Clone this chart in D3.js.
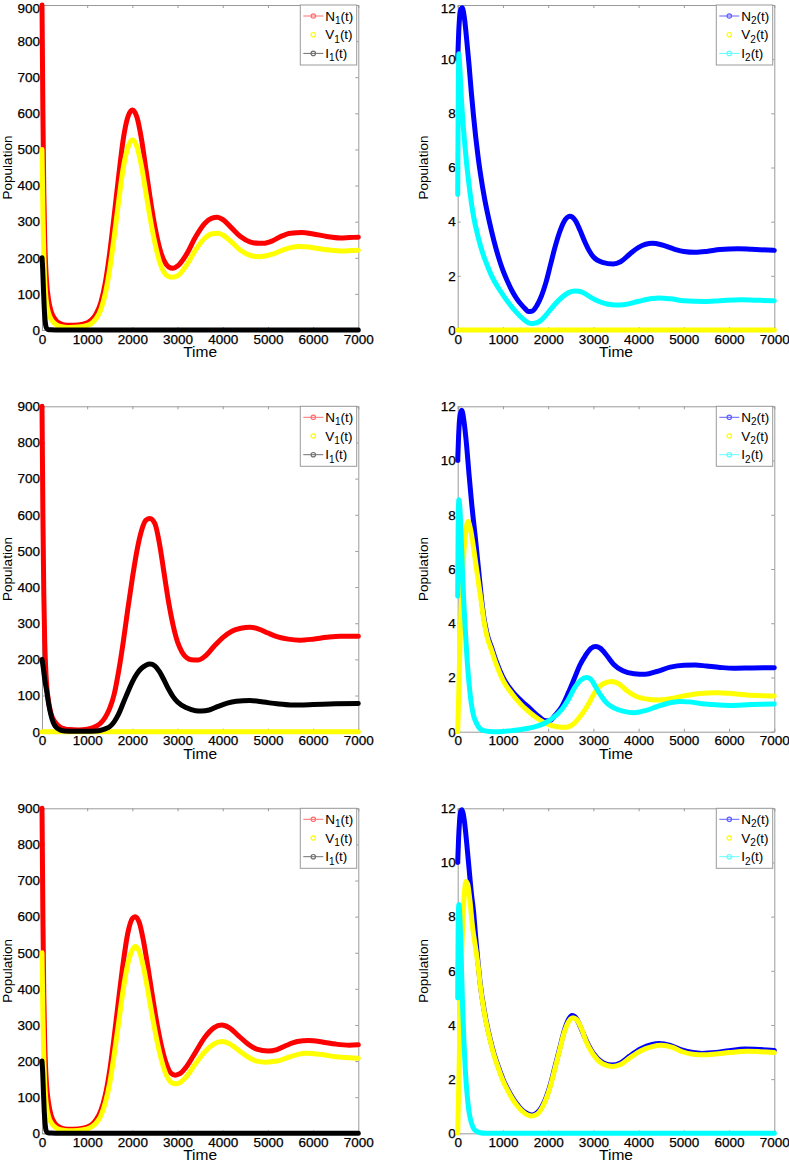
<!DOCTYPE html>
<html><head><meta charset="utf-8">
<script src="https://cdn.jsdelivr.net/npm/d3@7"></script>
<style>
html,body{margin:0;padding:0;background:#fff;}
svg{display:block;}
text{font-family:"Liberation Sans",Arial,Helvetica,sans-serif;}
</style></head>
<body>
<svg id="fig" width="789" height="1162"></svg>
<script>
// ---------- data (time, population) ----------
const xTicks = [0,1000,2000,3000,4000,5000,6000,7000];
const yTicks1 = [0,100,200,300,400,500,600,700,800,900];
const yTicks2 = [0,2,4,6,8,10,12];

// Panel A (top-left)
const a_N1 = [[0,900],[20,600],[40,380],[60,250],[80,180],[100,135],[150,80],[200,52],[300,28],[400,18],[500,14],[600,13],[800,14],[1000,20],[1100,28],[1200,45],[1300,75],[1400,130],[1500,215],[1600,320],[1700,430],[1800,530],[1900,590],[2000,609],[2100,590],[2200,530],[2300,445],[2400,360],[2500,285],[2600,228],[2700,192],[2800,175],[2900,171],[3000,177],[3200,210],[3400,258],[3600,295],[3750,309],[3880,312],[4000,306],[4200,282],[4400,258],[4600,244],[4800,240],[4900,240],[5100,247],[5300,260],[5500,268],[5750,270],[6000,266],[6300,259],[6600,255],[6800,256],[7000,257]];
const a_V1 = [[0,500],[20,330],[40,210],[60,140],[80,100],[100,75],[150,45],[200,30],[300,16],[400,10],[500,8],[600,7],[800,8],[1000,13],[1100,19],[1200,32],[1300,56],[1400,100],[1500,170],[1600,260],[1700,360],[1800,450],[1900,505],[2000,526],[2100,508],[2200,455],[2300,380],[2400,305],[2500,240],[2600,190],[2700,160],[2800,148],[2870,146],[3000,150],[3200,180],[3400,222],[3600,254],[3750,266],[3900,268],[4000,263],[4200,243],[4400,220],[4600,207],[4800,203],[4900,204],[5100,210],[5300,220],[5500,228],[5700,231],[6000,228],[6300,222],[6600,219],[7000,221]];
const a_I1 = [[0,200],[15,170],[30,120],[50,60],[70,25],[90,8],[120,2],[200,0.5],[400,0],[1000,0],[3000,0],[5000,0],[7000,0]];

// Panel B (top-right)
const b_N2 = [[0,10],[20,10.9],[40,11.5],[70,11.85],[100,11.9],[150,11.5],[200,10.7],[250,9.8],[300,8.8],[350,7.9],[400,7.1],[450,6.4],[500,5.8],[600,4.8],[700,4.0],[800,3.3],[900,2.7],[1000,2.2],[1100,1.8],[1200,1.45],[1300,1.17],[1400,0.95],[1500,0.77],[1560,0.68],[1650,0.7],[1750,0.9],[1850,1.25],[1950,1.75],[2050,2.4],[2150,3.05],[2250,3.6],[2350,4.0],[2480,4.2],[2600,4.05],[2700,3.7],[2800,3.3],[2900,2.95],[3000,2.7],[3200,2.5],[3440,2.44],[3600,2.52],[3800,2.8],[4000,3.05],[4300,3.2],[4500,3.15],[4800,2.98],[5000,2.9],[5250,2.87],[5500,2.9],[5800,2.97],[6200,3.0],[6500,2.98],[7000,2.94]];
const b_V2 = [[0,0],[1000,0],[3000,0],[5000,0],[7000,0]];
const b_I2 = [[0,5],[10,8],[25,10.2],[50,9.6],[80,8.6],[120,7.6],[160,6.8],[200,6.1],[270,5.1],[350,4.2],[450,3.45],[550,2.85],[650,2.4],[750,2.0],[900,1.55],[1000,1.3],[1150,0.95],[1300,0.65],[1450,0.4],[1550,0.28],[1650,0.24],[1750,0.27],[1850,0.37],[1950,0.55],[2050,0.75],[2150,0.95],[2300,1.2],[2450,1.38],[2600,1.44],[2750,1.4],[2900,1.25],[3100,1.07],[3300,0.96],[3500,0.92],[3700,0.94],[4000,1.06],[4300,1.16],[4450,1.18],[4700,1.15],[5000,1.08],[5450,1.05],[5800,1.08],[6250,1.12],[6600,1.1],[7000,1.08]];

// Panel C (middle-left)
const c_N1 = [[0,900],[20,600],[40,380],[60,250],[80,180],[100,135],[150,80],[200,50],[300,25],[400,13],[500,8],[600,6],[800,5],[1000,7],[1100,10],[1200,15],[1300,24],[1400,40],[1500,65],[1600,105],[1700,170],[1800,250],[1900,340],[2000,425],[2100,500],[2200,555],[2300,585],[2390,590],[2500,575],[2600,520],[2700,440],[2800,360],[2900,295],[3000,248],[3100,220],[3200,205],[3300,199],[3450,198],[3600,208],[3800,235],[4000,260],[4200,278],[4400,286],[4600,289],[4800,284],[5000,273],[5200,263],[5450,256],[5700,253],[6000,256],[6300,261],[6600,264],[7000,264]];
const c_V1 = [[0,0],[1000,0],[3000,0],[5000,0],[7000,0]];
const c_I1 = [[0,200],[30,175],[60,145],[100,115],[150,75],[200,45],[250,25],[300,14],[400,5],[500,2],[700,1],[1000,1],[1200,2],[1300,4],[1400,8],[1500,14],[1600,28],[1700,50],[1800,80],[1900,110],[2000,138],[2100,160],[2200,175],[2300,184],[2390,187],[2500,182],[2600,166],[2700,143],[2800,118],[2900,97],[3000,82],[3200,66],[3400,58],[3530,57],[3700,60],[3900,70],[4100,79],[4300,84],[4600,86],[4900,82],[5200,77],[5500,74],[5700,74],[6000,75],[6500,77],[7000,78]];

// Panel D (middle-right)
const d_N2 = [[0,10],[20,10.9],[40,11.5],[70,11.8],[90,11.85],[150,11.3],[200,10.5],[250,9.5],[310,8.4],[400,7.0],[460,6.0],[520,5.0],[570,4.3],[650,3.6],[750,3.1],[850,2.6],[1000,2.0],[1200,1.5],[1400,1.15],[1600,0.85],[1800,0.55],[1950,0.4],[2050,0.42],[2150,0.6],[2300,0.92],[2450,1.45],[2600,2.05],[2700,2.45],[2820,2.8],[2950,3.08],[3050,3.14],[3150,3.08],[3300,2.8],[3450,2.48],[3650,2.25],[3900,2.14],[4150,2.12],[4400,2.22],[4700,2.38],[5000,2.45],[5250,2.46],[5500,2.42],[5800,2.37],[6100,2.34],[6500,2.35],[7000,2.36]];
const d_V2 = [[0,0],[20,1.2],[40,2.6],[70,4.3],[100,5.6],[140,6.7],[180,7.4],[230,7.75],[280,7.5],[340,6.9],[400,6.2],[460,5.5],[520,4.8],[570,4.2],[650,3.5],[750,3.0],[850,2.5],[1000,1.9],[1200,1.4],[1400,1.0],[1600,0.7],[1800,0.45],[2000,0.27],[2200,0.18],[2370,0.16],[2500,0.22],[2600,0.35],[2700,0.55],[2820,0.82],[2950,1.2],[3050,1.5],[3200,1.75],[3400,1.85],[3550,1.78],[3750,1.5],[3950,1.3],[4200,1.2],[4450,1.17],[4700,1.22],[5000,1.32],[5300,1.4],[5750,1.44],[6100,1.4],[6500,1.34],[7000,1.32]];
const d_I2 = [[0,5],[10,7.5],[25,8.55],[50,8.2],[80,7.0],[110,5.7],[140,4.6],[170,3.7],[210,2.6],[250,1.8],[300,1.05],[350,0.6],[420,0.3],[500,0.1],[600,0.03],[800,0],[1000,0.01],[1200,0.04],[1400,0.08],[1560,0.13],[1700,0.18],[1850,0.26],[1950,0.34],[2100,0.5],[2300,0.82],[2450,1.2],[2600,1.66],[2720,1.9],[2850,2.0],[2950,1.92],[3050,1.65],[3180,1.3],[3300,1.05],[3450,0.88],[3650,0.76],[3900,0.7],[4150,0.78],[4400,0.92],[4650,1.05],[4900,1.11],[5100,1.1],[5400,1.03],[5700,0.99],[6000,0.97],[6500,1.0],[7000,1.02]];

// Panel E (bottom-left)
const e_N1 = [[0,900],[20,600],[40,380],[60,250],[80,180],[100,135],[150,80],[200,50],[300,25],[400,16],[500,12],[600,11],[800,12],[1000,17],[1100,24],[1200,38],[1300,62],[1400,105],[1500,175],[1600,270],[1700,375],[1800,475],[1900,555],[2000,595],[2060,600],[2150,585],[2250,530],[2350,455],[2450,375],[2550,300],[2650,238],[2750,193],[2850,167],[2950,161],[3050,165],[3200,185],[3400,225],[3600,265],[3800,292],[3980,300],[4150,292],[4350,270],[4550,248],[4750,233],[5000,228],[5200,232],[5400,243],[5650,254],[5900,257],[6200,253],[6500,247],[6800,244],[7000,245]];
const e_V1 = [[0,500],[20,330],[40,210],[60,140],[80,100],[100,75],[150,45],[200,30],[300,16],[400,10],[500,8],[600,7],[800,8],[1000,12],[1100,18],[1200,29],[1300,48],[1400,84],[1500,140],[1600,220],[1700,310],[1800,400],[1900,470],[2000,508],[2060,517],[2150,505],[2250,458],[2350,390],[2450,318],[2550,253],[2650,200],[2750,162],[2850,142],[2950,137],[3050,140],[3200,158],[3400,193],[3600,225],[3800,247],[3980,254],[4150,248],[4350,230],[4550,212],[4750,200],[4950,197],[5200,200],[5400,208],[5650,218],[5850,222],[6200,218],[6500,212],[6800,209],[7000,208]];
const e_I1 = [[0,200],[15,170],[30,120],[50,60],[70,25],[90,8],[120,2],[200,0.5],[400,0],[1000,0],[3000,0],[5000,0],[7000,0]];

// Panel F (bottom-right)
const f_N2 = [[0,10],[20,10.9],[40,11.5],[70,11.9],[90,11.95],[150,11.5],[200,10.7],[250,9.8],[300,8.9],[350,8.2],[400,7.2],[450,6.3],[500,5.5],[600,4.4],[700,3.6],[800,2.95],[900,2.45],[1000,2.0],[1100,1.65],[1200,1.35],[1300,1.1],[1400,0.9],[1500,0.76],[1600,0.69],[1650,0.68],[1750,0.75],[1850,0.95],[1950,1.3],[2050,1.8],[2150,2.45],[2250,3.1],[2350,3.75],[2450,4.2],[2530,4.35],[2620,4.25],[2720,3.9],[2850,3.4],[3000,2.95],[3200,2.62],[3400,2.52],[3600,2.6],[3800,2.85],[4050,3.12],[4300,3.28],[4450,3.32],[4700,3.25],[4950,3.08],[5200,2.98],[5400,2.95],[5700,2.98],[6000,3.05],[6350,3.11],[6700,3.09],[7000,3.06]];
const f_V2 = [[0,0],[20,1.5],[40,3.2],[60,5.0],[90,6.8],[120,8.1],[150,8.9],[180,9.3],[220,9.2],[270,8.6],[330,7.6],[400,6.8],[450,6.2],[500,5.45],[600,4.35],[700,3.55],[800,2.9],[900,2.4],[1000,1.95],[1100,1.6],[1200,1.3],[1300,1.05],[1400,0.86],[1500,0.72],[1600,0.65],[1650,0.64],[1750,0.7],[1850,0.9],[1950,1.25],[2050,1.75],[2150,2.4],[2250,3.05],[2350,3.7],[2450,4.12],[2550,4.27],[2640,4.18],[2740,3.85],[2850,3.35],[3000,2.9],[3200,2.57],[3420,2.47],[3600,2.54],[3800,2.78],[4050,3.05],[4300,3.2],[4500,3.25],[4750,3.17],[4950,3.02],[5200,2.92],[5450,2.9],[5700,2.93],[6000,2.98],[6400,3.03],[6700,3.01],[7000,2.98]];
const f_I2 = [[0,5],[10,7.5],[25,8.45],[50,7.9],[80,6.3],[110,4.6],[140,3.3],[170,2.3],[210,1.4],[250,0.8],[300,0.4],[350,0.18],[420,0.07],[500,0.02],[600,0],[1000,0],[3000,0],[5000,0],[7000,0]];

// ---------- layout ----------
const colX = [{l:42, r:358.3}, {l:457.7, r:774.3}];
const rowY = [{t:5, b:330}, {t:406.3, b:731.7}, {t:808.3, b:1133.3}];

const COL = {N1:"#ff0000", V1:"#ffff00", I1:"#000000", N2:"#0000ff", V2:"#ffff00", I2:"#00ffff"};
const LEG = {N1:"#ff7070", V1:"#ffff00", I1:"#707070", N2:"#6060ff", V2:"#ffff00", I2:"#60ffff"};

const panels = [
  {c:0,r:0,max:900,ticks:yTicks1,idx:"1",series:[["N",a_N1],["V",a_V1],["I",a_I1]]},
  {c:1,r:0,max:12, ticks:yTicks2,idx:"2",series:[["N",b_N2],["V",b_V2],["I",b_I2]]},
  {c:0,r:1,max:900,ticks:yTicks1,idx:"1",series:[["N",c_N1],["V",c_V1],["I",c_I1]]},
  {c:1,r:1,max:12, ticks:yTicks2,idx:"2",series:[["N",d_N2],["V",d_V2],["I",d_I2]]},
  {c:0,r:2,max:900,ticks:yTicks1,idx:"1",series:[["N",e_N1],["V",e_V1],["I",e_I1]]},
  {c:1,r:2,max:12, ticks:yTicks2,idx:"2",series:[["N",f_N2],["V",f_V2],["I",f_I2]]},
];

const svg = d3.select("#fig");
svg.append("rect").attr("width",789).attr("height",1162).attr("fill","#fff");

const AX = "#9a9a9a";

panels.forEach(p => {
  const L = colX[p.c].l, R = colX[p.c].r, T = rowY[p.r].t, B = rowY[p.r].b;
  const x = d3.scaleLinear().domain([0,7000]).range([L,R]);
  const y = d3.scaleLinear().domain([0,p.max]).range([B,T]);
  const g = svg.append("g");

  const styleAxis = sel => {
    sel.select(".domain").attr("stroke",AX).attr("stroke-width",1).attr("fill","none");
    sel.selectAll(".tick line").attr("stroke",AX);
    sel.selectAll(".tick text").attr("fill","#000").attr("font-family",null)
       .style("font-size","13.5px").attr("stroke","#000").attr("stroke-width",0.25);
  };
  g.append("g").attr("transform",`translate(0,${B})`)
    .call(d3.axisBottom(x).tickValues(xTicks).tickSizeInner(-3).tickSizeOuter(0).tickPadding(4).tickFormat(d3.format("d")))
    .call(styleAxis);
  g.append("g").attr("transform",`translate(0,${T})`)
    .call(d3.axisTop(x).tickValues(xTicks).tickSizeInner(-3).tickSizeOuter(0).tickFormat(""))
    .call(styleAxis);
  const ly = g.append("g").attr("transform",`translate(${L},0)`)
    .call(d3.axisLeft(y).tickValues(p.ticks).tickSizeInner(-3).tickSizeOuter(0).tickPadding(2).tickFormat(d3.format("d")))
    .call(styleAxis);
  // keep the topmost label of the first row inside the picture
  if (p.r === 0) {
    ly.selectAll(".tick").filter(d => d === p.max).select("text").attr("dy","0.55em");
  }
  g.append("g").attr("transform",`translate(${R},0)`)
    .call(d3.axisRight(y).tickValues(p.ticks).tickSizeInner(-3).tickSizeOuter(0).tickFormat(""))
    .call(styleAxis);

  // axis titles
  g.append("text").attr("x",(L+R)/2).attr("y",B+27).attr("text-anchor","middle")
    .style("font-size","15.5px").text("Time");
  g.append("text").attr("transform",`translate(${L-30},${(T+B)/2}) rotate(-90)`)
    .attr("text-anchor","middle").style("font-size","13.5px").text("Population");

  // curves
  const line = d3.line().x(d=>x(d[0])).y(d=>y(d[1])).curve(d3.curveMonotoneX);
  p.series.forEach(([k,data]) => {
    g.append("path").datum(data).attr("d",line)
      .attr("fill","none").attr("stroke",COL[k+p.idx]).attr("stroke-width",5)
      .attr("stroke-linejoin","round").attr("stroke-linecap","round");
  });

  // legend
  const lgL = R - 58, lgR = R - 1.6;
  const lg = g.append("g");
  lg.append("rect").attr("x",lgL).attr("y",T).attr("width",lgR-lgL).attr("height",60)
    .attr("fill","#fff").attr("stroke",AX).attr("stroke-width",1);
  p.series.forEach(([k],i) => {
    const yy = T + 11 + i*18.7;
    const key = k+p.idx;
    if (k !== "V") {
      lg.append("line").attr("x1",lgL+3).attr("x2",lgL+23).attr("y1",yy).attr("y2",yy)
        .attr("stroke",LEG[key]).attr("stroke-width",1);
    }
    lg.append("circle").attr("cx",lgL+13).attr("cy",yy).attr("r",2.2)
      .attr("fill","none").attr("stroke",LEG[key]).attr("stroke-width",1.2);
    const t = lg.append("text").attr("x",lgL+25).attr("y",yy+4.5).style("font-size","13.5px").attr("fill","#000");
    t.append("tspan").text(k);
    t.append("tspan").attr("dy",3.5).style("font-size","10px").text(p.idx);
    t.append("tspan").attr("dy",-3.5).text("(t)");
  });
});
</script>
</body></html>
